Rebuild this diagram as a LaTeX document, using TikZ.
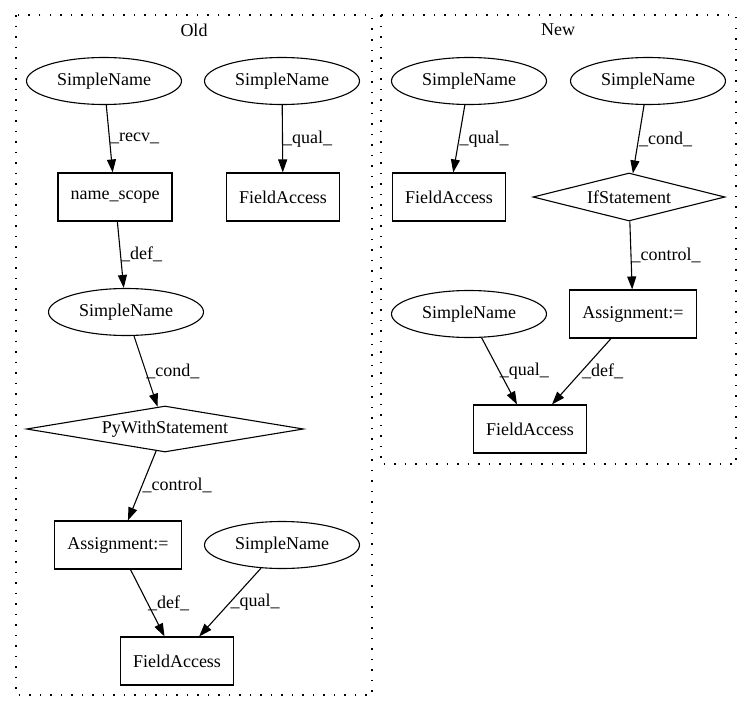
\documentclass[tikz,border=0pt]{standalone}
\usepackage{fontspec}
\setmainfont{Liberation Serif}
\usetikzlibrary{shapes.geometric,arrows.meta}
\begin{document}
\begin{tikzpicture}[x=1pt,y=-1pt,
  every node/.style={font=\fontsize{18}{21}\selectfont},
  ell/.style={draw, ellipse, line width=1.1pt, minimum width=155pt, minimum height=47pt, inner sep=0pt},
  box/.style={draw, rectangle, line width=1.1pt, minimum height=48pt, inner xsep=12.5pt, inner ysep=0pt},
  dia/.style={draw, diamond, line width=1.1pt, aspect=5, inner sep=0pt},
  arr/.style={draw, line width=1.1pt, -{Triangle[length=13pt,width=9pt]}},
  lbl/.style={anchor=west, inner sep=0pt, pos=0.5},
  cluster/.style={draw, line width=1.2pt, dash pattern=on 1.5pt off 9pt}
]
\useasboundingbox (0,0) rectangle (752,712);
% clusters
\draw[cluster] (16,15) rectangle (372,695);
\draw[cluster] (381,15) rectangle (736,464);
\node (oldt) at (194,30) {Old};
\node (newt) at (558,30) {New};
% Old
\node[ell] (osn1) at (104,81) {SimpleName};
\node[ell] (osn2) at (282,81) {SimpleName};
\node[box] (ons) at (115,197) {name\_scope};
\node[box] (ofa1) at (283,197) {FieldAccess};
\node[ell] (osn3) at (126,312) {SimpleName};
\node[dia, minimum width=277pt, minimum height=46pt] (opw) at (165,429) {PyWithStatement};
\node[box] (oas) at (118,545) {Assignment:=};
\node[ell] (osn4) at (282,545) {SimpleName};
\node[box] (ofa2) at (177,661) {FieldAccess};
\draw[arr] (osn1) -- node[lbl]{\_recv\_} (ons);
\draw[arr] (osn2) -- node[lbl]{\_qual\_} (ofa1);
\draw[arr] (ons) -- node[lbl]{\_def\_} (osn3);
\draw[arr] (osn3) -- node[lbl]{\_cond\_} (opw);
\draw[arr] (opw) -- node[lbl]{\_control\_} (oas);
\draw[arr] (oas) -- node[lbl]{\_def\_} (ofa2);
\draw[arr] (osn4) -- node[lbl]{\_qual\_} (ofa2);
% New
\node[ell] (nsn1) at (469,81) {SimpleName};
\node[ell] (nsn2) at (648,81) {SimpleName};
\node[box] (nfa1) at (449,197) {FieldAccess};
\node[dia, minimum width=192pt, minimum height=48pt] (nif) at (629,197) {IfStatement};
\node[box] (nas) at (633,314) {Assignment:=};
\node[ell] (nsn3) at (469,314) {SimpleName};
\node[box] (nfa2) at (530,429) {FieldAccess};
\draw[arr] (nsn1) -- node[lbl]{\_qual\_} (nfa1);
\draw[arr] (nsn2) -- node[lbl]{\_cond\_} (nif);
\draw[arr] (nif) -- node[lbl]{\_control\_} (nas);
\draw[arr] (nsn3) -- node[lbl]{\_qual\_} (nfa2);
\draw[arr] (nas) -- node[lbl]{\_def\_} (nfa2);
\end{tikzpicture}
\end{document}
